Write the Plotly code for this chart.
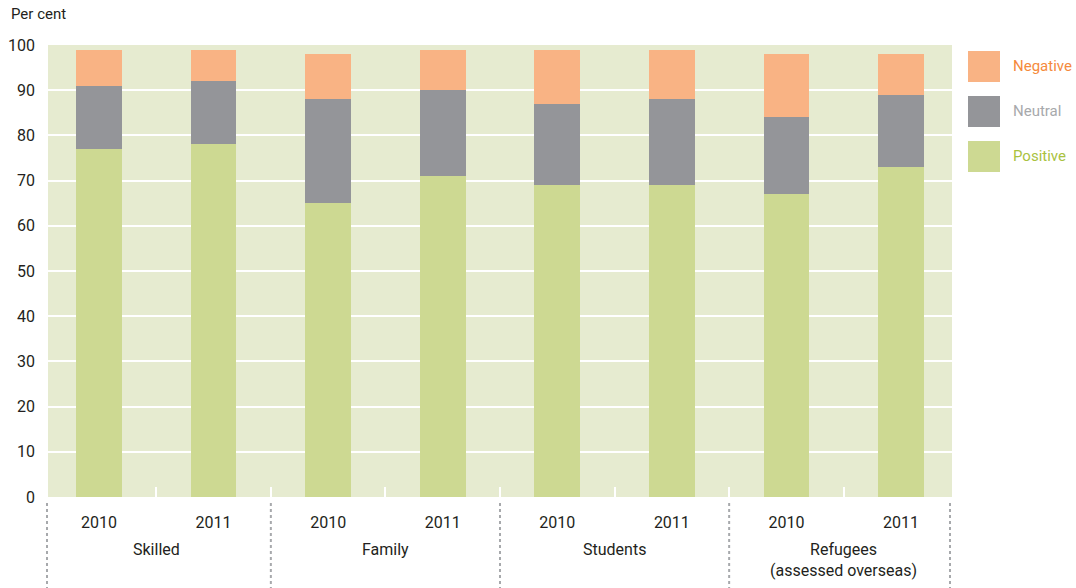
import plotly.graph_objects as go

categories = ["Skilled", "Family", "Students", "Refugees<br>(assessed overseas)"]
years = ["2010", "2011"]
positive = [77, 78, 65, 71, 69, 69, 67, 73]
neutral = [14, 14, 23, 19, 18, 19, 17, 16]
negative = [8, 7, 10, 9, 12, 11, 14, 9]
y_ticks = [0, 10, 20, 30, 40, 50, 60, 70, 80, 90, 100]

FONT = "Roboto, Arial"
C_POS = "#CDD992"
C_NEU = "#949599"
C_NEG = "#F9B384"
BG = "#E6EBD0"

n = len(categories) * len(years)
xs = list(range(n))
xlabels = [y for _ in categories for y in years]

fig = go.Figure()
for name, vals, col in [("Positive", positive, C_POS), ("Neutral", neutral, C_NEU), ("Negative", negative, C_NEG)]:
    fig.add_trace(go.Bar(x=xs, y=vals, name=name, marker=dict(color=col, line=dict(width=0)), width=0.4))

PW, PH = 904, 452
fig.update_layout(
    barmode="stack",
    width=1076, height=588,
    margin=dict(l=48, r=124, t=45, b=91, autoexpand=False),
    plot_bgcolor=BG, paper_bgcolor="white",
    showlegend=False,
    font=dict(family=FONT, size=16, color="#231F20"),
    xaxis=dict(
        range=[-0.445, n - 1 + 0.445],
        tickmode="array", tickvals=xs, ticktext=xlabels,
        showgrid=False, zeroline=False, ticks="", showline=False,
        tickfont=dict(size=16), ticklabelstandoff=14,
        minor=dict(tickmode="array", tickvals=[i + 0.5 for i in range(n - 1)],
                   ticks="inside", ticklen=10, tickwidth=2, tickcolor="white", showgrid=False),
    ),
    yaxis=dict(
        range=[0, 100], tickvals=y_ticks, showgrid=True, gridcolor="white", gridwidth=2,
        zeroline=False, ticks="", ticklabelstandoff=12, tickfont=dict(size=16),
    ),
)

# "Per cent" axis title
fig.add_annotation(text="Per cent", xref="paper", yref="paper", x=(9 - 48) / PW, y=1 + (45 - 25) / PH,
                   xanchor="left", yanchor="bottom", showarrow=False, font=dict(size=15))

# Group labels
for gi, cat in enumerate(categories):
    fig.add_annotation(text=cat, xref="x", yref="paper", x=gi * 2 + 0.5, y=-(538 - 497) / PH,
                       xanchor="center", yanchor="top", showarrow=False, font=dict(size=16))

# Dotted dividers
div_x = [-0.5 + 2 * k for k in range(len(categories) + 1)]
for k, dx in enumerate(div_x):
    if k == 0:
        xr, xv = "paper", -1 / PW
    elif k == len(div_x) - 1:
        xr, xv = "paper", 1 - 2 / PW
    else:
        xr, xv = "x", dx
    fig.add_shape(type="line", xref=xr, yref="paper", x0=xv, x1=xv,
                  y0=-(503 - 497) / PH, y1=-(590 - 497) / PH,
                  line=dict(color="#A7A9AC", width=2, dash="dot"))

# Legend (manual)
legend_items = [("Negative", C_NEG, "#F58A3C"), ("Neutral", C_NEU, "#A7A9AC"), ("Positive", C_POS, "#A9C23F")]
for i, (lab, col, tcol) in enumerate(legend_items):
    top = 51 + i * 45
    y1 = 1 - (top - 45) / PH
    y0 = 1 - (top + 31 - 45) / PH
    fig.add_shape(type="rect", xref="paper", yref="paper",
                  x0=(968 - 48) / PW, x1=(1000 - 48) / PW, y0=y0, y1=y1,
                  fillcolor=col, line=dict(width=0))
    fig.add_annotation(text=lab, xref="paper", yref="paper", x=(1011 - 48) / PW, y=(y0 + y1) / 2,
                       xanchor="left", yanchor="middle", showarrow=False,
                       font=dict(size=15, color=tcol))

fig.write_html("out.html", config={"displayModeBar": False},
               post_script="document.body.style.margin='0px';")
